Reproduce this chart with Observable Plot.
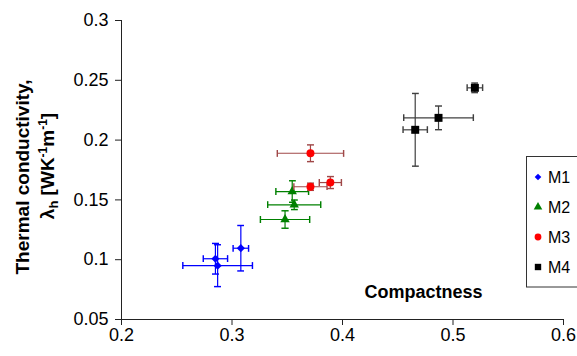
<!DOCTYPE html>
<html><head><meta charset="utf-8">
<script src="https://cdn.jsdelivr.net/npm/d3@7"></script>
<script src="https://cdn.jsdelivr.net/npm/@observablehq/plot@0.6"></script>
<style>body{margin:0;background:#fff} #chart{width:577px;height:356px}</style>
</head><body><div id="chart"></div>
<script>
// ---- data ----
const series = ["M1", "M2", "M3", "M4"];
const seriesColor = ["#0000ff", "#008000", "#ff0000", "#000000"];
const barColor = ["#0000ff", "#008000", "#a04848", "#404040"];
const seriesSymbol = ["diamond2", "triangle", "circle", "square"];
const pointSeries = ["M1","M1","M1","M2","M2","M2","M3","M3","M3","M4","M4","M4"];
const compactness    = [0.285, 0.287, 0.308, 0.3545, 0.3563, 0.348, 0.371, 0.371, 0.389, 0.4658, 0.4869, 0.5198];
const conductivity   = [0.1008, 0.095, 0.1096, 0.157, 0.1459, 0.1336, 0.189, 0.161, 0.1645, 0.2086, 0.2186, 0.2437];
const compactnessErr = [0.011, 0.0315, 0.007, 0.0148, 0.024, 0.0223, 0.030, 0.015, 0.010, 0.011, 0.0315, 0.007];
const conductivityErr= [0.0128, 0.0175, 0.019, 0.009, 0.004, 0.0073, 0.007, 0.003, 0.005, 0.0304, 0.0099, 0.004];
const xTicks = [0.2, 0.3, 0.4, 0.5, 0.6];
const yTicks = [0.05, 0.1, 0.15, 0.2, 0.25, 0.3];
const xLabel = "Compactness";

const FONT = "Liberation Sans, Arial, Helvetica, sans-serif";
const data = pointSeries.map((s, i) => ({
  s, x: compactness[i], y: conductivity[i], xe: compactnessErr[i], ye: conductivityErr[i]
}));
const dotR = {diamond2: 3.7, triangle: 3.5, circle: 4, square: 4.5};

const seriesMarks = series.flatMap((s, k) => {
  const d = data.filter(p => p.s === s);
  return [
    Plot.link(d, {x1: p => p.x - p.xe, x2: p => p.x + p.xe, y1: "y", y2: "y",
      stroke: barColor[k], strokeWidth: 1.2, marker: "tick"}),
    Plot.link(d, {x1: "x", x2: "x", y1: p => p.y - p.ye, y2: p => p.y + p.ye,
      stroke: barColor[k], strokeWidth: 1.2, marker: "tick"}),
    Plot.dot(d, {x: "x", y: "y", symbol: () => seriesSymbol[k], fill: seriesColor[k],
      r: dotR[seriesSymbol[k]]})
  ];
});

const plot = Plot.plot({
  width: 577, height: 356,
  marginLeft: 121, marginRight: 14, marginTop: 20, marginBottom: 37,
  style: {fontFamily: FONT, fontSize: "18px", background: "#fff", color: "#000"},
  x: {domain: [0.2, 0.6]},
  y: {domain: [0.05, 0.3]},
  symbol: {type: "identity"},
  marks: [
    Plot.axisX({ticks: xTicks, tickSize: 6, tickPadding: 3, tickFormat: d => String(d), label: null, fontSize: 18, stroke: "#222"}),
    Plot.axisY({ticks: yTicks, tickSize: 6, tickPadding: 7, tickFormat: d => String(d), label: null, fontSize: 18, stroke: "#222"}),
    Plot.ruleX([0.2], {stroke: "#222"}),
    Plot.ruleY([0.05], {stroke: "#222"}),
    ...seriesMarks,
    Plot.text([xLabel], {x: () => 0.4733, y: () => 0.0726, text: d => d, fontWeight: "bold", fontSize: 18, fill: "#000"})
  ]
});
document.getElementById("chart").appendChild(plot);

// ---- y axis title ----
const svg = d3.select(plot);
const yt = svg.append("g").attr("font-family", FONT).attr("font-weight", "bold")
  .attr("font-size", 19).attr("text-anchor", "middle").attr("fill", "#000");
yt.append("text").attr("transform", "translate(29,177) rotate(-90)").text("Thermal conductivity,");
const t2 = yt.append("text").attr("transform", "translate(54,166) rotate(-90)");
t2.append("tspan").text("λ");
t2.append("tspan").attr("font-size", 13).attr("dy", 4).text("h");
t2.append("tspan").attr("dy", -4).text(" [WK");
t2.append("tspan").attr("font-size", 12).attr("dy", -7).text("-1");
t2.append("tspan").attr("dy", 7).text("m");
t2.append("tspan").attr("font-size", 12).attr("dy", -7).text("-1");
t2.append("tspan").attr("dy", 7).text("]");

// ---- legend ----
const lg = svg.append("g").attr("font-family", FONT).attr("font-size", 16).attr("text-anchor", "start");
lg.append("rect").attr("x", 526.5).attr("y", 156.5).attr("width", 60).attr("height", 130.5)
  .attr("fill", "#fff").attr("stroke", "#333").attr("stroke-width", 1);
const d3sym = {diamond2: d3.symbolDiamond2, triangle: d3.symbolTriangle, circle: d3.symbolCircle, square: d3.symbolSquare};
const legR = {diamond2: 3, triangle: 3.2, circle: 3.4, square: 3.6};
series.forEach((s, k) => {
  const yy = 177 + k * 30;
  const r = legR[seriesSymbol[k]];
  lg.append("path").attr("transform", `translate(538,${yy})`)
    .attr("d", d3.symbol(d3sym[seriesSymbol[k]], r * r * Math.PI)()).attr("fill", seriesColor[k]);
  lg.append("text").attr("x", 548).attr("y", yy).attr("dy", "0.36em").attr("fill", "#000").text(s);
});
</script>
</body></html>
